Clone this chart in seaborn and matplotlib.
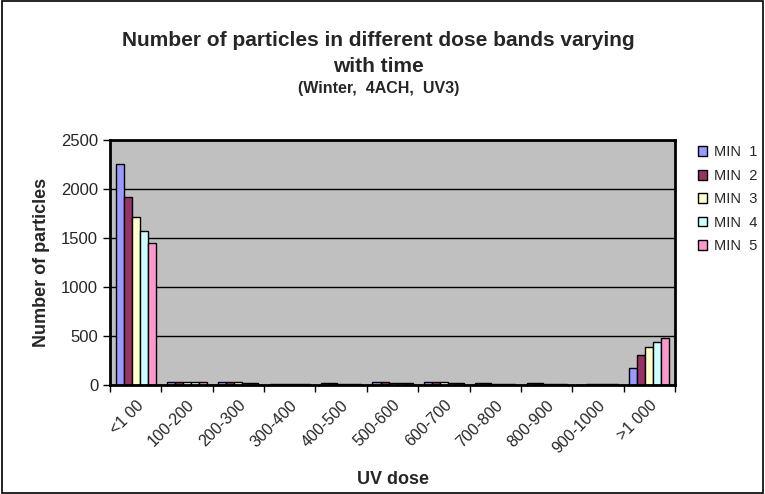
import numpy as np
import pandas as pd
import matplotlib
matplotlib.use('Agg')
import matplotlib.pyplot as plt
import seaborn as sns
from matplotlib.patches import Rectangle

# Data
bands = ['<1 00', '100-200', '200-300', '300-400', '400-500', '500-600',
         '600-700', '700-800', '800-900', '900-1000', '>1 000']
min1 = [2260, 35, 35, 15, 18, 30, 30, 18, 20, 5, 170]
min2 = [1920, 35, 35, 15, 18, 28, 30, 18, 18, 10, 305]
min3 = [1715, 33, 30, 12, 15, 25, 32, 15, 15, 12, 390]
min4 = [1570, 33, 25, 12, 15, 22, 25, 15, 15, 12, 442]
min5 = [1445, 32, 22, 12, 15, 20, 22, 15, 15, 12, 476]
series = ['MIN  1', 'MIN  2', 'MIN  3', 'MIN  4', 'MIN  5']
colors = ['#9999FF', '#993366', '#FFFFCC', '#CCFFFF', '#FF99CC']

df = pd.DataFrame({'band': bands, series[0]: min1, series[1]: min2,
                   series[2]: min3, series[3]: min4, series[4]: min5})
long = df.melt(id_vars='band', var_name='series', value_name='count')

sns.set_style('white')
plt.rcParams['font.family'] = ['Liberation Sans', 'DejaVu Sans']

fig = plt.figure(figsize=(7.65, 4.94), dpi=100)
ax = fig.add_axes([0.1438, 0.2206, 0.7386, 0.496])
ax.set_facecolor('#C0C0C0')

sns.barplot(data=long, x='band', y='count', hue='series', palette=colors,
            width=0.78, edgecolor='black', linewidth=1, saturation=1,
            ax=ax, legend=True)

ax.set_ylim(0, 2500)
ax.set_xlim(-0.5, len(bands) - 0.5)
ax.set_yticks(np.arange(0, 2501, 500))
ax.yaxis.grid(True, color='black', linewidth=1)
ax.set_axisbelow(True)
for s in ax.spines.values():
    s.set_color('black')
    s.set_linewidth(2)

# tick marks at category boundaries
ax.set_xticks(np.arange(len(bands)))
ax.set_xticklabels(bands, rotation=45, ha='right', rotation_mode='anchor', fontsize=11.5)
ax.set_xticks(np.arange(-0.5, len(bands)), minor=True)
ax.tick_params(axis='x', which='major', length=0, pad=9)
ax.tick_params(axis='x', which='minor', length=5, width=1, color='black', direction='out')
ax.tick_params(axis='y', length=5, width=1, color='black', direction='out', labelsize=12)
ax.xaxis.set_ticks_position('bottom')
ax.yaxis.set_ticks_position('left')

ax.set_xlabel('UV dose', fontsize=13, fontweight='bold', labelpad=11)
ax.set_ylabel('Number of particles', fontsize=13, fontweight='bold', labelpad=8)

leg = ax.legend(loc='upper left', bbox_to_anchor=(1.022, 1.02), frameon=False,
                fontsize=10.5, handlelength=0.65, handleheight=0.65,
                labelspacing=0.65, handletextpad=0.45, borderaxespad=0.3)

fig.text(0.495, 0.918, 'Number of particles in different dose bands varying',
         ha='center', va='center', fontsize=15, fontweight='bold')
fig.text(0.495, 0.866, 'with time', ha='center', va='center',
         fontsize=15, fontweight='bold')
fig.text(0.495, 0.820, '(Winter,  4ACH,  UV3)', ha='center', va='center',
         fontsize=11.5, fontweight='bold')

# outer chart border
fig.patches.append(Rectangle((0.002, 0.002), 0.996, 0.996, transform=fig.transFigure,
                             fill=False, edgecolor='black', linewidth=1.2))

fig.savefig('out.png', dpi=100)
